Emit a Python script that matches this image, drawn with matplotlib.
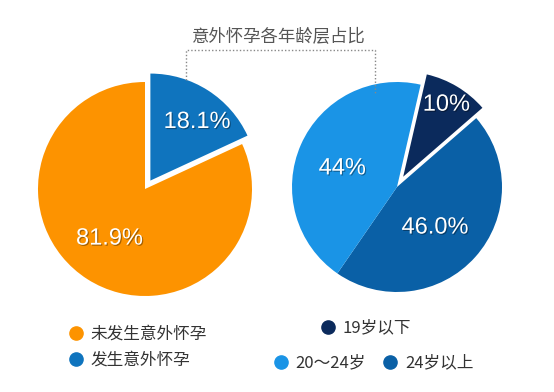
import numpy as np
import matplotlib
matplotlib.use("Agg")
import matplotlib.pyplot as plt
import matplotlib.patheffects as pe
from matplotlib.lines import Line2D

plt.rcParams['font.family'] = ['Noto Sans CJK SC', 'DejaVu Sans']

# -- Data --
title = "意外怀孕各年龄层占比"

left_labels = ["发生意外怀孕", "未发生意外怀孕"]
left_values = [18.1, 81.9]
left_texts = ["18.1%", "81.9%"]
left_colors = ["#0f74be", "#fd9300"]

right_labels = ["19岁以下", "24岁以上", "20～24岁"]
right_values = [10, 46, 44]
right_texts = ["10%", "46.0%", "44%"]
right_colors = ["#0b2a5c", "#0a60a6", "#1a94e6"]

# -- Figure in pixel units --
W, H = 554, 392
fig = plt.figure(figsize=(W / 100, H / 100), dpi=100)
ax = fig.add_axes([0, 0, 1, 1])

shadow = [pe.withSimplePatchShadow(offset=(0.8, -0.8), shadow_rgbFace='black', alpha=0.35)]


def draw_pie(values, colors, texts, center, radius, start, explode, dists, turns):
    # explode is in data units (pixels here)
    wedges, _ = ax.pie(values, colors=colors, startangle=start, counterclock=False,
                       center=center, radius=radius, explode=explode,
                       wedgeprops=dict(linewidth=0), frame=True)
    for w, t, d, a in zip(wedges, texts, dists, turns):
        mid = np.deg2rad((w.theta1 + w.theta2) / 2 + a)
        cx, cy = w.center
        ax.text(cx + d * w.r * np.cos(mid), cy + d * w.r * np.sin(mid), t,
                color='white', fontsize=17, ha='center', va='center',
                family='Liberation Sans', path_effects=shadow)


draw_pie(left_values, left_colors, left_texts, (145, 203), 107, 90,
         [10, 0], [0.7, 0.57], [-6, -3])
draw_pie(right_values, right_colors, right_texts, (397, 205), 105, 77,
         [12, 0, 0], [0.8, 0.53, 0.55], [0, -5, 5])

ax.set_xlim(0, W)
ax.set_ylim(0, H)
ax.set_aspect('equal')
ax.axis('off')

# -- Title and dotted bracket --
ax.text(279, H - 37, title, fontsize=12.5, color='#555555', ha='center', va='center')
ax.plot([186, 186, 375, 375], [H - 80, H - 50, H - 50, H - 93],
        linestyle=(0, (1, 1.5)), color='#888888', linewidth=1)

# -- Legends --
def handle(c):
    return Line2D([], [], linestyle='none', marker='o', markersize=9.5,
                  markerfacecolor=c, markeredgecolor=c)

leg_kw = dict(frameon=False, fontsize=12, handlelength=0.9, handletextpad=0.45,
              borderpad=0, borderaxespad=0, labelcolor='#333333',
              bbox_transform=ax.transData, loc='center left')

leg1 = ax.legend([handle(left_colors[1]), handle(left_colors[0])],
                 [left_labels[1], left_labels[0]],
                 bbox_to_anchor=(68, H - 347.5), labelspacing=0.55, **leg_kw)
ax.add_artist(leg1)
leg2 = ax.legend([handle(right_colors[0])], [right_labels[0]],
                 bbox_to_anchor=(320, H - 328), **leg_kw)
ax.add_artist(leg2)
leg3 = ax.legend([handle(right_colors[2]), handle(right_colors[1])],
                 [right_labels[2], right_labels[1]], ncol=2, columnspacing=1.0,
                 bbox_to_anchor=(273, H - 363), **leg_kw)

fig.savefig("out.png", dpi=100)
